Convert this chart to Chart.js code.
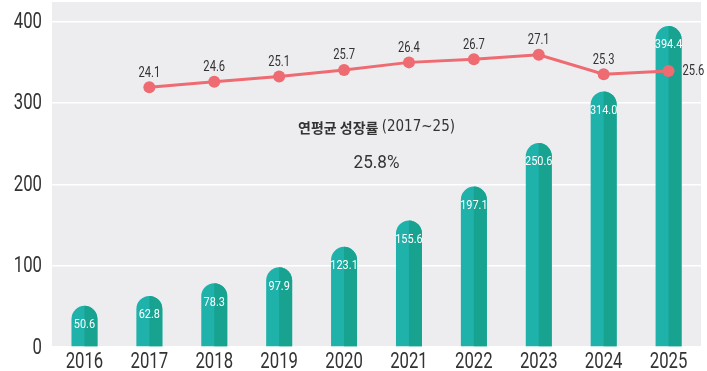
<!DOCTYPE html>
<html>
<head>
<meta charset="utf-8">
<script src="https://cdn.jsdelivr.net/npm/chart.js@4.4.1/dist/chart.umd.min.js"></script>
<style>
  html, body { margin: 0; padding: 0; background: #ffffff; }
  #wrap { position: relative; width: 707px; height: 371px; }
</style>
</head>
<body>
<div id="wrap"><canvas id="growthChart"></canvas></div>
<script>
document.addEventListener('DOMContentLoaded', function () {
    const years = ['2016', '2017', '2018', '2019', '2020', '2021', '2022', '2023', '2024', '2025'];
    const marketSize = [50.6, 62.8, 78.3, 97.9, 123.1, 155.6, 197.1, 250.6, 314.0, 394.4];
    const growthRate = [null, 24.1, 24.6, 25.1, 25.7, 26.4, 26.7, 27.1, 25.3, 25.6];
    const yTicks = [0, 100, 200, 300, 400];
    const cagrTitle = '연평균 성장률';
    const cagrPeriod = '(2017~25)';
    const cagrValue = '25.8%';

    const narrow = '"DejaVu Sans Condensed", Roboto, sans-serif';
    const din = 'Roboto, sans-serif';
    const barLight = '#1fb2ab';
    const barDark = '#17a38f';
    const lineColor = '#ee6b72';
    const textColor = '#333333';

    // squeezed text, to get the condensed look of the original
    function squeezed(ctx, text, x, y, font, align, sx, color) {
        ctx.save();
        ctx.font = font;
        ctx.fillStyle = color;
        ctx.textBaseline = 'middle';
        ctx.textAlign = align;
        ctx.translate(x, y);
        ctx.scale(sx, 1);
        ctx.fillText(text, 0, 0);
        ctx.restore();
    }

    // gray plot background
    const plotBackground = {
        id: 'plotBackground',
        beforeDraw(chart) {
            const { ctx, chartArea } = chart;
            ctx.save();
            ctx.fillStyle = '#ededf0';
            ctx.fillRect(chartArea.left, chartArea.top, chartArea.right - chartArea.left, chartArea.bottom - chartArea.top);
            ctx.restore();
        }
    };

    const decorations = {
        id: 'decorations',
        afterDatasetDraw(chart, args) {
            const ctx = chart.ctx;
            const ds = chart.data.datasets[args.index];
            if (ds.type === 'bar') {
                args.meta.data.forEach((bar, i) => {
                    const p = bar.getProps(['x', 'y', 'base', 'width'], true);
                    const r = p.width / 2;
                    ctx.save();
                    ctx.beginPath();
                    ctx.rect(p.x, p.y - 1, r + 1, p.base - p.y + 2);
                    ctx.clip();
                    ctx.beginPath();
                    ctx.roundRect(p.x - r, p.y, p.width, p.base - p.y, [r, r, 0, 0]);
                    ctx.fillStyle = barDark;
                    ctx.fill();
                    ctx.restore();

                    squeezed(ctx, marketSize[i].toFixed(1), p.x, p.y + 19, '13px ' + din, 'center', 0.84, '#ffffff');
                });
            } else if (ds.type === 'line') {
                args.meta.data.forEach((pt, i) => {
                    if (growthRate[i] === null) return;
                    const label = growthRate[i].toFixed(1);
                    if (i === growthRate.length - 1) {
                        squeezed(ctx, label, pt.x + 14, pt.y, '14px ' + din, 'left', 0.8, textColor);
                    } else {
                        squeezed(ctx, label, pt.x, pt.y - 14, '14px ' + din, 'center', 0.8, textColor);
                    }
                });
            }
        },
        afterDatasetsDraw(chart) {
            const ctx = chart.ctx;
            const xs = chart.scales.x;
            const ys = chart.scales.y;
            const cx = xs.getPixelForValue(4.5);
            ctx.save();
            ctx.fillStyle = textColor;
            ctx.textBaseline = 'middle';
            ctx.font = 'bold 14px "Noto Sans CJK KR", sans-serif';
            const w1 = ctx.measureText(cagrTitle + ' ').width;
            ctx.font = '15px ' + narrow;
            const w2 = ctx.measureText(cagrPeriod).width;
            const x0 = cx - (w1 + w2) / 2;
            const ty = ys.getPixelForValue(270);
            ctx.textAlign = 'left';
            ctx.font = 'bold 14px "Noto Sans CJK KR", sans-serif';
            ctx.fillText(cagrTitle + ' ', x0, ty);
            ctx.font = '15px ' + narrow;
            ctx.fillText(cagrPeriod, x0 + w1, ty);
            ctx.restore();
            squeezed(ctx, cagrValue, cx, ys.getPixelForValue(225), '18px ' + din, 'center', 0.95, textColor);
        },
        afterDraw(chart) {
            // axis labels
            const ctx = chart.ctx;
            const xs = chart.scales.x;
            const ys = chart.scales.y;
            const area = chart.chartArea;
            years.forEach((yr, i) => {
                squeezed(ctx, yr, xs.getPixelForValue(i), area.bottom + 15, '22px ' + din, 'center', 0.76, textColor);
            });
            yTicks.forEach(v => {
                squeezed(ctx, String(v), area.left - 10, ys.getPixelForValue(v) + 1, '22px ' + din, 'right', 0.76, textColor);
            });
        }
    };

    const ctx = document.getElementById('growthChart').getContext('2d');
    new Chart(ctx, {
        data: {
            labels: years,
            datasets: [
                {
                    type: 'line',
                    label: '성장률',
                    data: growthRate,
                    yAxisID: 'y1',
                    borderColor: lineColor,
                    backgroundColor: lineColor,
                    borderWidth: 3,
                    pointRadius: 6,
                    pointBorderWidth: 0,
                    tension: 0,
                    order: 0
                },
                {
                    type: 'bar',
                    label: '시장 규모',
                    data: marketSize,
                    yAxisID: 'y',
                    backgroundColor: barLight,
                    borderRadius: 13,
                    borderSkipped: 'bottom',
                    categoryPercentage: 1,
                    barPercentage: 0.4,
                    order: 1
                }
            ]
        },
        options: {
            responsive: true,
            maintainAspectRatio: false,
            animation: false,
            layout: {
                autoPadding: false,
                padding: { top: 2, right: 6, left: 0, bottom: 0 }
            },
            plugins: {
                legend: { display: false },
                tooltip: { enabled: false }
            },
            scales: {
                x: {
                    grid: { display: false },
                    border: { display: false },
                    ticks: {
                        color: 'rgba(0,0,0,0)',
                        font: { size: 12 },
                        padding: 1,
                        maxRotation: 0
                    },
                    afterFit: (scale) => {
                        scale.height = 24;
                        scale.paddingLeft = 0;
                        scale.paddingRight = 0;
                    }
                },
                y: {
                    min: 0,
                    max: 424,
                    afterBuildTicks: (axis) => {
                        axis.ticks = yTicks.map(v => ({ value: v }));
                    },
                    grid: { color: '#ffffff', lineWidth: 1.5, drawTicks: false },
                    border: { display: false },
                    ticks: {
                        color: 'rgba(0,0,0,0)',
                        font: { size: 12 },
                        padding: 10
                    },
                    afterFit: (scale) => {
                        scale.width = 52;
                        scale.paddingTop = 0;
                        scale.paddingBottom = 0;
                    }
                },
                y1: {
                    display: false,
                    min: 0,
                    max: 32
                }
            }
        },
        plugins: [plotBackground, decorations]
    });
});
</script>
</body>
</html>
